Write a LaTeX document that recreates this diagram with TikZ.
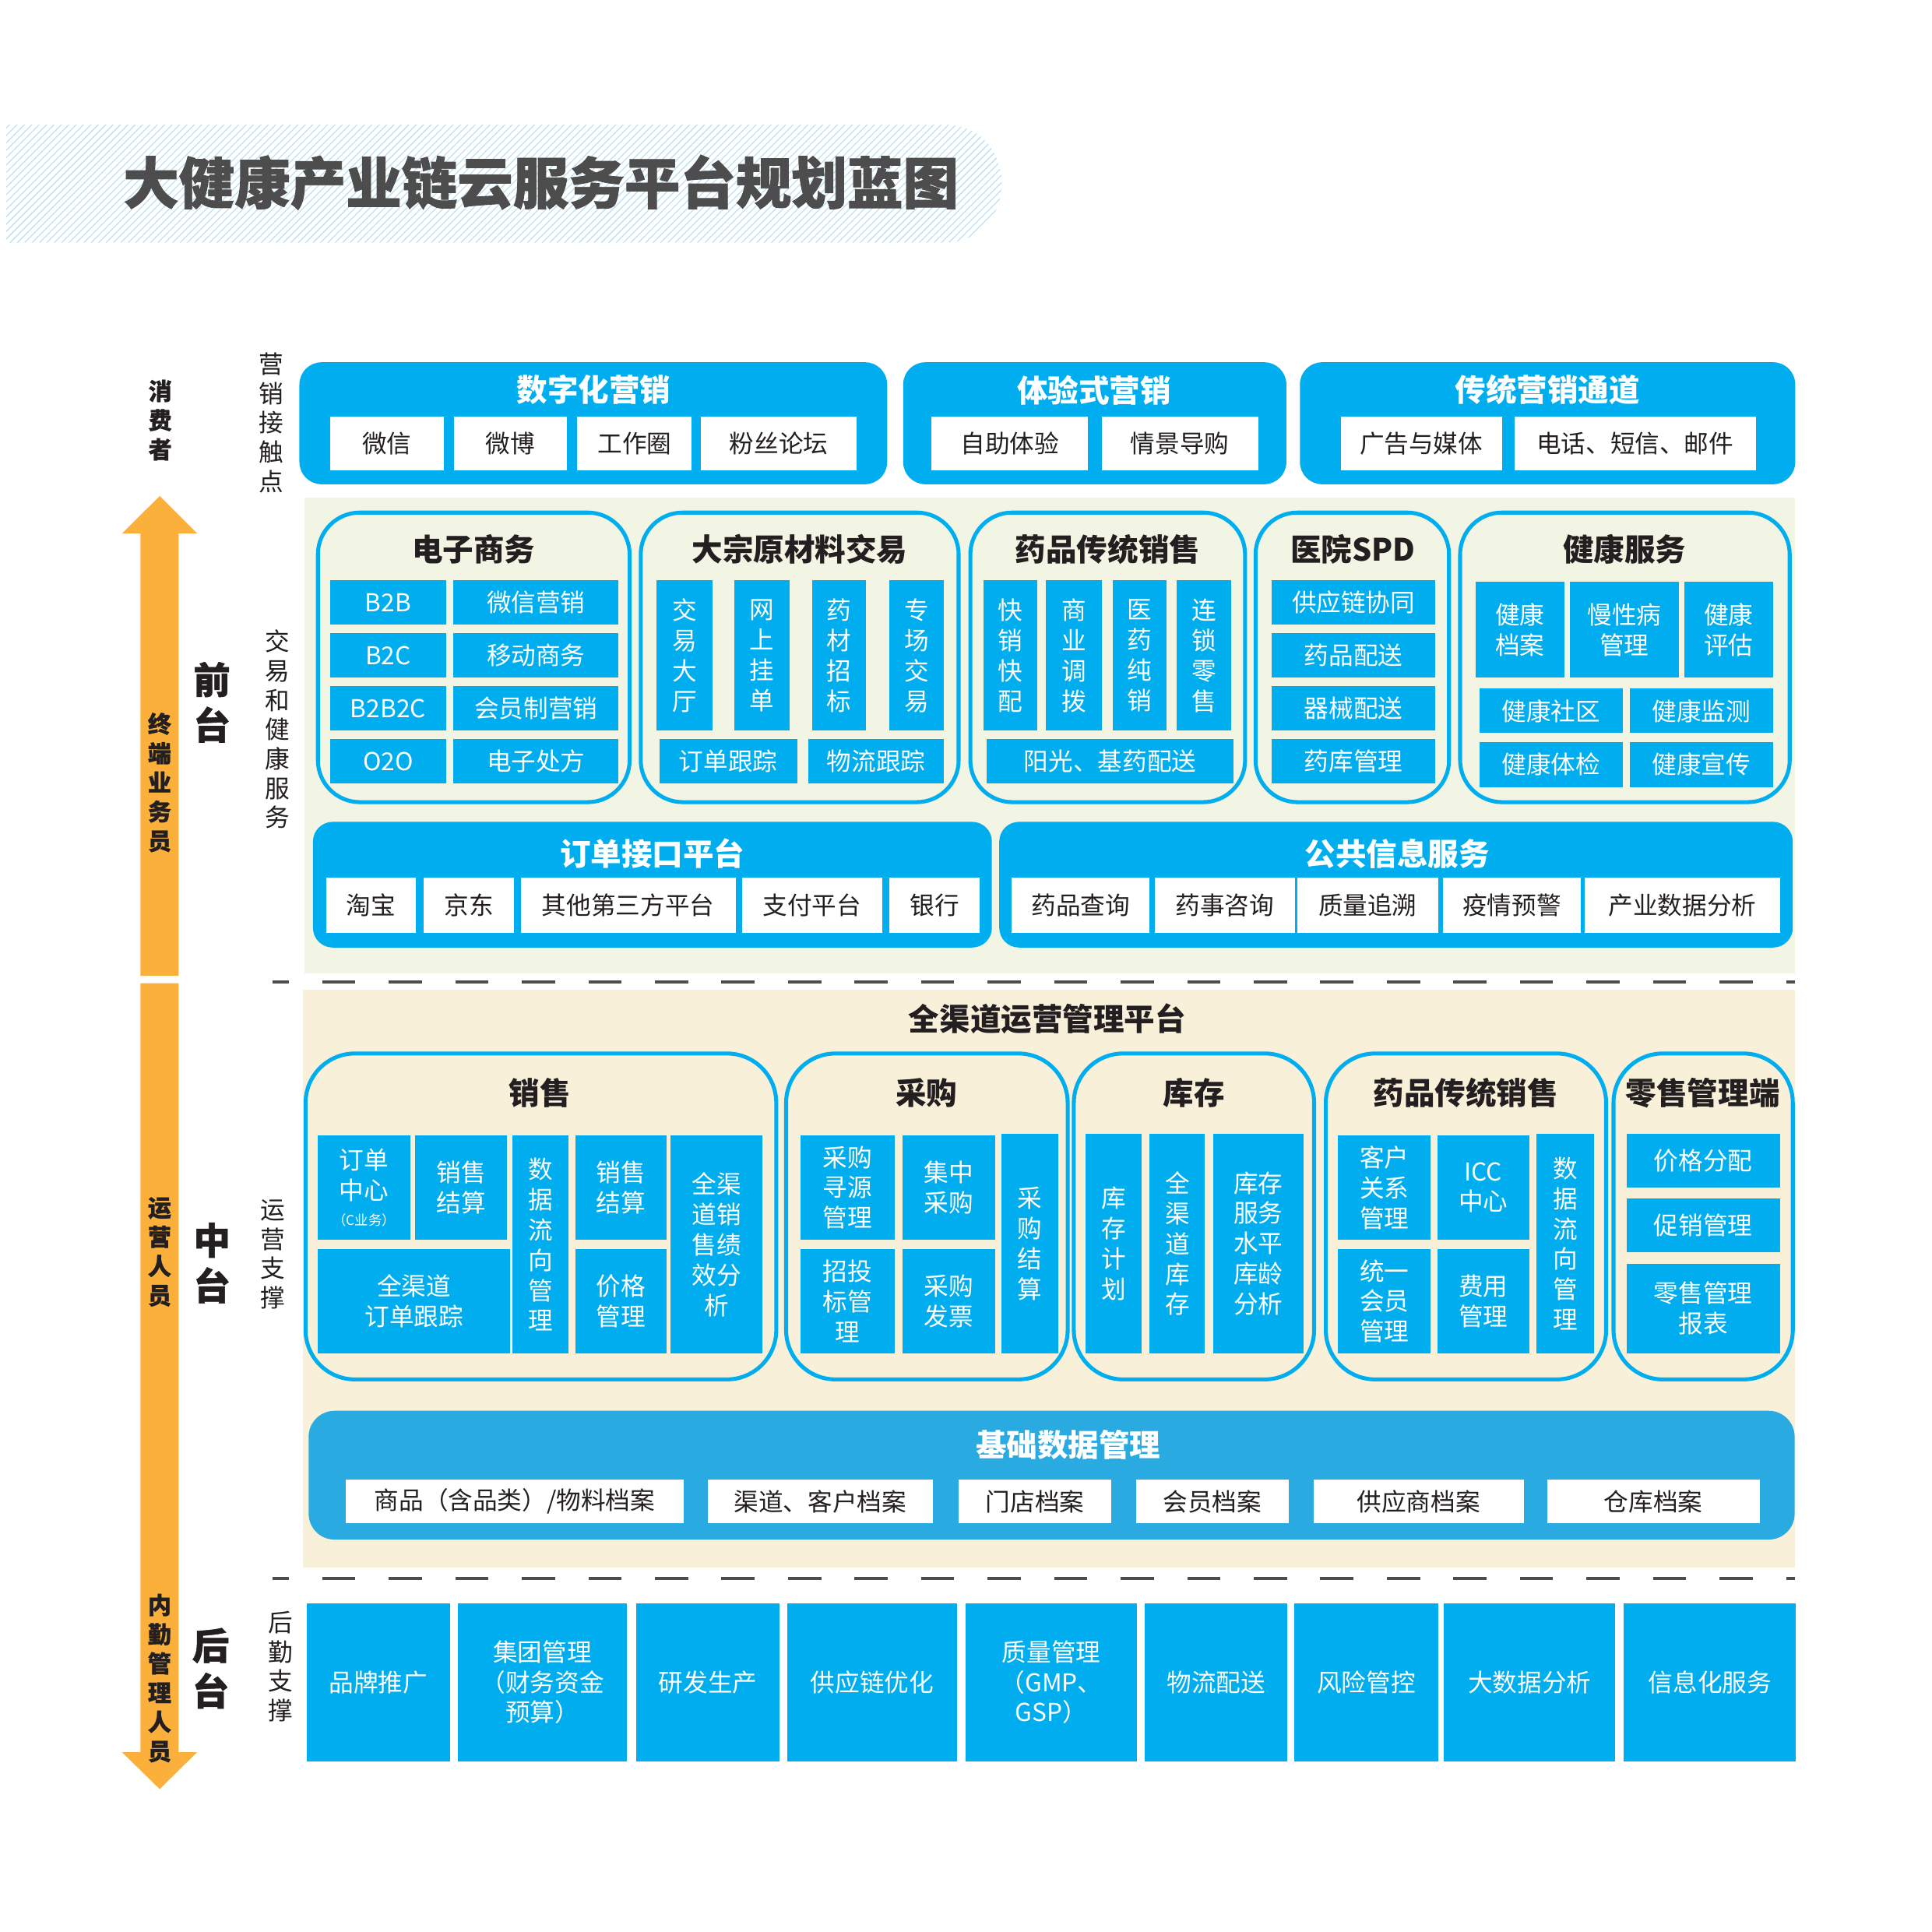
\documentclass[tikz,border=0pt]{standalone}
\usepackage{fontspec}
\setmainfont{Noto Sans CJK SC}
\definecolor{cblue}{HTML}{00AEEF}
\definecolor{cbluetwo}{HTML}{29ABE2}
\definecolor{bgfront}{HTML}{F2F5E3}
\definecolor{bgmid}{HTML}{F8F0D9}
\definecolor{corange}{HTML}{FBB03B}
\definecolor{ctitle}{HTML}{4D4D4D}
\definecolor{cdark}{HTML}{231F20}
\definecolor{chatch}{HTML}{BFE2F2}
\definecolor{cdash}{HTML}{4D4D4D}
\newcommand\fsub{\fontsize{10pt}{12.3pt}\selectfont}
\newcommand\fttl{\fontsize{12.5pt}{15pt}\selectfont\bfseries}
\newcommand\bxn[7]{\node[#1,minimum width={(#5-#3)*0.5pt},minimum height={(#6-#4)*0.5pt}] (#2) at ({(#3+#5)/2},{(#4+#6)/2}) {#7};}
\begin{document}
\begin{tikzpicture}[x=0.5pt,y=-0.5pt,
  bb/.style={fill=cblue,text=white,inner sep=0pt,outer sep=0pt,align=center,font=\fsub},
  wb/.style={fill=white,text=cdark,inner sep=0pt,outer sep=0pt,align=center,font=\fsub},
  ob/.style={draw=cblue,line width=1.6pt,rounded corners=17pt,inner sep=0pt,outer sep=0pt},
  om/.style={ob,rounded corners=20pt},
  fb/.style={fill=cblue,rounded corners=9pt,inner sep=0pt,outer sep=0pt},
  ttl/.style={font=\fttl,text=cdark,inner sep=0pt},
  wttl/.style={font=\fttl,text=white,inner sep=0pt},
  side/.style={font=\fontsize{9.5pt}{11.85pt}\selectfont\bfseries\addfontfeature{FakeBold=0.8},text=cdark,align=center,inner sep=0pt},
  sidethin/.style={font=\fontsize{10pt}{11.9pt}\selectfont,text=cdark,align=center,inner sep=0pt},
  stage/.style={font=\fontsize{15pt}{18.5pt}\selectfont\bfseries\addfontfeature{FakeBold=1},text=cdark,align=center,inner sep=0pt},
  dashline/.style={draw=cdash,line width=1.25pt,dash pattern=on 13.5pt off 13.5pt,dash phase=6.75pt},
  bgr/.style={inner sep=0pt,outer sep=0pt}
]
\useasboundingbox (0,0) rectangle (1568,1568);
\fill[white] (0,0) rectangle (1568,1568);

% ---------- title band ----------
\begin{scope}
\clip (5,101) -- (765,101) .. controls (800,101) and (813,128) .. (813,149) .. controls (813,170) and (800,197) .. (765,197) -- (5,197) -- cycle;
\foreach \i in {-100,-94,...,820} \draw[chatch,line width=0.4pt] (\i,197) -- (\i+96,101);
\end{scope}
\node[font=\fontsize{22.6pt}{26pt}\selectfont\bfseries\addfontfeature{FakeBold=1.2},text=ctitle,inner sep=0pt] (title) at (439,148) {大健康产业链云服务平台规划蓝图};

% ---------- left column ----------
\fill[corange] (114,792) -- (114,433) -- (99,433) -- (129.6,402.6) -- (160,433) -- (145,433) -- (145,792) -- cycle;
\fill[corange] (114,798) -- (114,1422) -- (99,1422) -- (129.6,1452) -- (160,1422) -- (145,1422) -- (145,798) -- cycle;
\node[side] (xfz) at (130,341) {消\\费\\者};
\node[sidethin] (yxjcd) at (220,343) {营\\销\\接\\触\\点};
\node[side] (zdyw) at (129.5,635) {终\\端\\业\\务\\员};
\node[stage] (qt) at (172,570) {前\\台};
\node[sidethin] (jyjk) at (225.5,592) {交\\易\\和\\健\\康\\服\\务};
\node[side] (yyry) at (129.5,1016) {运\\营\\人\\员};
\node[stage] (zt) at (172,1025) {中\\台};
\node[sidethin] (yyzc) at (221.5,1018) {运\\营\\支\\撑};
\node[side] (nqgl) at (129.5,1362) {内\\勤\\管\\理\\人\\员};
\node[stage] (ht) at (171,1354) {后\\台};
\node[sidethin] (hqzc) at (228,1352.5) {后\\勤\\支\\撑};

% ---------- top row ----------
\bxn{fb}{szyx}{243}{294}{720}{393}{}
\node[wttl] (szyxt) at (482,316.5) {数字化营销};
\bxn{wb}{wx}{268}{338}{360}{382}{微信}
\bxn{wb}{wbo}{368.5}{338}{460}{382}{微博}
\bxn{wb}{gzq}{468.5}{338}{561.5}{382}{工作圈}
\bxn{wb}{fslt}{569}{338}{695}{382}{粉丝论坛}
\bxn{fb}{tys}{733}{294}{1044}{393}{}
\node[wttl] (tyst) at (888,316.5) {体验式营销};
\bxn{wb}{zzty}{756}{338}{883}{382}{自助体验}
\bxn{wb}{qjdg}{894}{338}{1021}{382}{情景导购}
\bxn{fb}{ctyx}{1055}{294}{1457}{393}{}
\node[wttl] (ctyxt) at (1256,316.5) {传统营销通道};
\bxn{wb}{ggmt}{1088}{338}{1219}{382}{广告与媒体}
\bxn{wb}{dhdx}{1229}{338}{1425}{382}{电话、短信、邮件}

% ---------- front stage ----------
\bxn{bgr,fill=bgfront}{frontbg}{247}{404}{1457}{790}{}
\bxn{ob}{dzsw}{258}{416}{511}{651}{}
\node[ttl] (dzswt) at (384.5,446) {电子商务};
\bxn{bb}{btob}{268}{471}{362}{507}{B2B}
\bxn{bb}{wxyx}{368}{471}{502}{507}{微信营销}
\bxn{bb}{btoc}{268}{514}{362}{550}{B2C}
\bxn{bb}{ydsw}{368}{514}{502}{550}{移动商务}
\bxn{bb}{btobtoc}{268}{557}{362}{593}{B2B2C}
\bxn{bb}{hyzyx}{368}{557}{502}{593}{会员制营销}
\bxn{bb}{oto}{268}{600}{362}{636}{O2O}
\bxn{bb}{dzcf}{368}{600}{502}{636}{电子处方}

\bxn{ob}{dzyc}{520}{416}{778}{651}{}
\node[ttl] (dzyct) at (649,446) {大宗原材料交易};
\bxn{bb}{jydt}{533}{471}{578}{593}{交\\易\\大\\厅}
\bxn{bb}{wsgd}{596}{471}{641}{593}{网\\上\\挂\\单}
\bxn{bb}{yczb}{659}{471}{703}{593}{药\\材\\招\\标}
\bxn{bb}{zcjy}{722}{471}{766}{593}{专\\场\\交\\易}
\bxn{bb}{ddgz}{535}{600}{647}{636}{订单跟踪}
\bxn{bb}{wlgz}{656}{600}{766}{636}{物流跟踪}

\bxn{ob}{ypct}{787.5}{416}{1010.5}{651}{}
\node[ttl] (ypctt) at (899,446) {药品传统销售};
\bxn{bb}{kxkp}{798}{471}{842}{593}{快\\销\\快\\配}
\bxn{bb}{sydb}{849}{471}{894}{593}{商\\业\\调\\拨}
\bxn{bb}{yycx}{903}{471}{947}{593}{医\\药\\纯\\销}
\bxn{bb}{slls}{955}{471}{999}{593}{连\\锁\\零\\售}
\bxn{bb}{ygjy}{801}{600}{1001}{636}{阳光、基药配送}

\bxn{ob}{yyspd}{1019}{416}{1176}{651}{}
\node[ttl] (yyspdt) at (1098,446) {医院SPD};
\bxn{bb}{gylxt}{1032}{471}{1165}{507}{供应链协同}
\bxn{bb}{ypps}{1032}{514}{1165}{550}{药品配送}
\bxn{bb}{qxps}{1032}{557}{1165}{593}{器械配送}
\bxn{bb}{ykgl}{1032}{600}{1165}{636}{药库管理}

\bxn{ob}{jkfw}{1185}{416}{1452.5}{651}{}
\node[ttl] (jkfwt) at (1318.5,446) {健康服务};
\bxn{bb}{jkda}{1197.5}{472}{1269.5}{550}{健康\\档案}
\bxn{bb}{mxbgl}{1274}{472}{1362.5}{550}{慢性病\\管理}
\bxn{bb}{jkpg}{1367}{472}{1439}{550}{健康\\评估}
\bxn{bb}{jksq}{1200.5}{559}{1317}{595}{健康社区}
\bxn{bb}{jkjc}{1322.5}{559}{1439}{595}{健康监测}
\bxn{bb}{jktj}{1200.5}{602}{1317}{639}{健康体检}
\bxn{bb}{jkxc}{1322.5}{602}{1439}{639}{健康宣传}

\bxn{fb,rounded corners=8pt}{ddjk}{254}{667}{805}{769}{}
\node[wttl] (ddjkt) at (529.5,692.7) {订单接口平台};
\bxn{wb}{tb}{264.5}{712.5}{337.5}{757}{淘宝}
\bxn{wb}{jd}{344}{712.5}{417}{757}{京东}
\bxn{wb}{qtdsf}{422.5}{712.5}{597}{757}{其他第三方平台}
\bxn{wb}{zfpt}{602}{712.5}{716}{757}{支付平台}
\bxn{wb}{yh}{722}{712.5}{795}{757}{银行}
\bxn{fb,rounded corners=8pt}{ggxx}{811}{667}{1455}{769}{}
\node[wttl] (ggxxt) at (1134,692.7) {公共信息服务};
\bxn{wb}{ypcx}{821}{712.5}{933}{757}{药品查询}
\bxn{wb}{yszx}{937}{712.5}{1051}{757}{药事咨询}
\bxn{wb}{zlzs}{1053}{712.5}{1167}{757}{质量追溯}
\bxn{wb}{yqyj}{1171}{712.5}{1283}{757}{疫情预警}
\bxn{wb}{cysj}{1286}{712.5}{1445}{757}{产业数据分析}

\coordinate (dOneA) at (221,797);
\coordinate (dOneB) at (1457,797);
\draw[dashline] (dOneA) -- (dOneB);

% ---------- middle stage ----------
\bxn{bgr,fill=bgmid}{midbg}{246}{803.5}{1457}{1272.5}{}
\node[ttl] (qqdt) at (850,827) {全渠道运营管理平台};

\bxn{om}{xs}{248}{855}{630}{1119.5}{}
\node[ttl] (xst) at (438,887) {销售};
\bxn{bb}{ddzx}{258}{921.5}{333}{1006}{订单\\中心\\[-2pt]{\fontsize{5.5pt}{6pt}\selectfont （C业务）}}
\bxn{bb}{xsjsa}{337}{921.5}{411.5}{1006}{销售\\结算}
\bxn{bb}{qqdgz}{258}{1013.5}{414}{1098.5}{全渠道\\订单跟踪}
\bxn{bb}{sjlxa}{416}{921.5}{461.5}{1098.5}{数\\据\\流\\向\\管\\理}
\bxn{bb}{xsjsb}{467}{921.5}{541}{1006}{销售\\结算}
\bxn{bb}{jggl}{467}{1013.5}{541}{1098.5}{价格\\管理}
\bxn{bb}{qqdxs}{544}{921.5}{619}{1098.5}{全渠\\道销\\售绩\\效分\\析}

\bxn{om}{cg}{638}{855}{866.5}{1119.5}{}
\node[ttl] (cgt) at (752,887) {采购};
\bxn{bb}{cgxy}{650}{921.5}{726}{1006}{采购\\寻源\\管理}
\bxn{bb}{jzcg}{732.5}{921.5}{807.5}{1006}{集中\\采购}
\bxn{bb}{ztbgl}{650}{1013.5}{726}{1098.5}{招投\\标管\\理}
\bxn{bb}{cgfp}{732.5}{1013.5}{807.5}{1098.5}{采购\\发票}
\bxn{bb}{cgjs}{812.5}{920}{859}{1098.5}{采\\购\\结\\算}

\bxn{om}{kc}{871.5}{855}{1066.5}{1119.5}{}
\node[ttl] (kct) at (969,887) {库存};
\bxn{bb}{kcjh}{881}{920}{926.5}{1098.5}{库\\存\\计\\划}
\bxn{bb}{qqdkc}{933}{920}{978}{1098.5}{全\\渠\\道\\库\\存}
\bxn{bb}{kcfw}{984.5}{920}{1058}{1098.5}{库存\\服务\\水平\\库龄\\分析}

\bxn{om}{ypcttwo}{1076}{855}{1303.5}{1119.5}{}
\node[ttl] (ypcttwot) at (1189.5,887) {药品传统销售};
\bxn{bb}{khgx}{1086}{921.5}{1161}{1006}{客户\\关系\\管理}
\bxn{bb}{icc}{1166.5}{921.5}{1241}{1006}{ICC\\中心}
\bxn{bb}{tyhy}{1086}{1013.5}{1161}{1098.5}{统一\\会员\\管理}
\bxn{bb}{fygl}{1166.5}{1013.5}{1241}{1098.5}{费用\\管理}
\bxn{bb}{sjlxb}{1247}{920}{1293.5}{1098.5}{数\\据\\流\\向\\管\\理}

\bxn{om}{lsgl}{1309.5}{855}{1455}{1119.5}{}
\node[ttl] (lsglt) at (1382,887) {零售管理端};
\bxn{bb}{jgfp}{1320}{920}{1444.5}{964}{价格分配}
\bxn{bb}{cxgl}{1320}{972.5}{1444.5}{1016.5}{促销管理}
\bxn{bb}{lsbb}{1320}{1025.5}{1444.5}{1098.5}{零售管理\\报表}

\bxn{fb,fill=cbluetwo,rounded corners=10.5pt}{jcsj}{250.5}{1145}{1456.5}{1249.5}{}
\node[wttl] (jcsjt) at (867,1172.5) {基础数据管理};
\bxn{wb}{spda}{280.5}{1201}{555}{1236}{商品（含品类）/物料档案}
\bxn{wb}{qdkh}{574.5}{1201}{757}{1236}{渠道、客户档案}
\bxn{wb}{mdda}{778}{1201}{902}{1236}{门店档案}
\bxn{wb}{hyda}{922}{1201}{1046}{1236}{会员档案}
\bxn{wb}{gysda}{1066}{1201}{1236.5}{1236}{供应商档案}
\bxn{wb}{ckda}{1255.5}{1201}{1428}{1236}{仓库档案}

\coordinate (dTwoA) at (221,1281);
\coordinate (dTwoB) at (1457,1281);
\draw[dashline] (dTwoA) -- (dTwoB);

% ---------- back stage ----------
\bxn{bb}{pptg}{249}{1301}{365}{1429.5}{品牌推广}
\bxn{bb}{jtgl}{371.5}{1301}{509}{1429.5}{集团管理\\（财务资金\\预算）}
\bxn{bb}{yfsc}{516.5}{1301}{632.5}{1429.5}{研发生产}
\bxn{bb}{gylyh}{639}{1301}{776.5}{1429.5}{供应链优化}
\bxn{bb}{zlgl}{783.5}{1301}{923}{1429.5}{质量管理\\（GMP、\\GSP）}
\bxn{bb}{wlps}{929}{1301}{1045}{1429.5}{物流配送}
\bxn{bb}{fxgk}{1050.5}{1301}{1167}{1429.5}{风险管控}
\bxn{bb}{dsjfx}{1172}{1301}{1311}{1429.5}{大数据分析}
\bxn{bb}{xxhfw}{1318}{1301}{1457.5}{1429.5}{信息化服务}
\end{tikzpicture}
\end{document}
